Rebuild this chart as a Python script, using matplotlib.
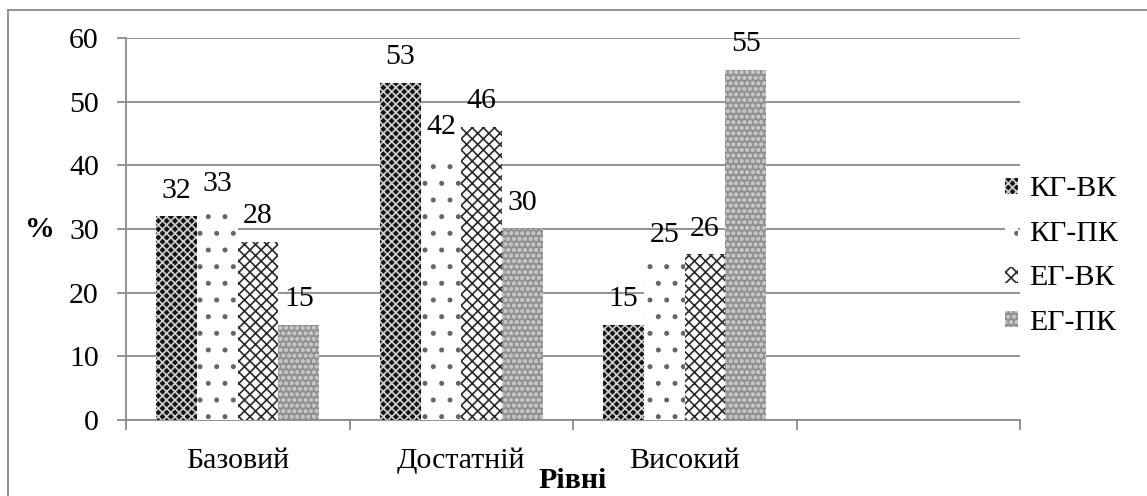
import matplotlib
matplotlib.use("Agg")
import matplotlib.pyplot as plt
import numpy as np
from matplotlib.lines import Line2D

plt.rcParams['font.family'] = ['Liberation Serif', 'DejaVu Serif']
plt.rcParams['hatch.linewidth'] = 1.2

categories = ['Базовий', 'Достатній', 'Високий', '']
series_names = ['КГ-ВК', 'КГ-ПК', 'ЕГ-ВК', 'ЕГ-ПК']
kg_vk = [32, 53, 15, None]
kg_pk = [33, 42, 25, None]
eg_vk = [28, 46, 26, None]
eg_pk = [15, 30, 55, None]
yticks = [0, 10, 20, 30, 40, 50, 60]

series = [kg_vk, kg_pk, eg_vk, eg_pk]
styles = [
    dict(facecolor='#151515', hatch='xxxx', edgecolor='#d0d0d0'),
    dict(facecolor='white', hatch='.', edgecolor='#666666'),
    dict(facecolor='white', hatch='xxx', edgecolor='#2a2a2a'),
    dict(facecolor='#8f8f8f', hatch='ooo', edgecolor='#c4c4c4'),
]

FS = 21.5
W, H = 1147, 496
fig = plt.figure(figsize=(W / 100, H / 100), dpi=100)
ax = fig.add_axes([126 / W, 1 - 420 / H, (1020 - 126) / W, (420 - 38) / H])

# outer frame (left and top edges visible)
fig.add_artist(Line2D([8 / W, 8 / W], [0, 1 - 10 / H], transform=fig.transFigure,
                      color='#8a8a8a', lw=1.3))
fig.add_artist(Line2D([8 / W, 1], [1 - 10 / H, 1 - 10 / H], transform=fig.transFigure,
                      color='#8a8a8a', lw=1.3))

n = len(categories)
x = np.arange(n)
w = 0.182
offsets = (np.arange(4) - 1.5) * w
for i, (vals, st) in enumerate(zip(series, styles)):
    xs = [x[j] + offsets[i] for j in range(n) if vals[j] is not None]
    vs = [v for v in vals if v is not None]
    ax.bar(xs, vs, width=w, linewidth=0, label=series_names[i], zorder=3, **st)
    for xx, v in zip(xs, vs):
        ax.annotate(str(v), (xx, v), xytext=(0, 13.5), textcoords='offset points',
                    ha='center', va='baseline', fontsize=FS, zorder=4)

ax.set_xlim(-0.5, n - 0.5)
ax.set_ylim(0, 60)
ax.set_yticks(yticks)
ax.set_yticklabels([str(t) for t in yticks], fontsize=FS)
ax.set_xticks(x)
ax.set_xticklabels(categories, fontsize=FS)
ax.tick_params(axis='x', which='major', length=0, pad=20)
ax.tick_params(axis='y', length=6.5, width=1.3, color='#8a8a8a', pad=13)
ax.set_xticks(np.arange(n + 1) - 0.5, minor=True)
ax.tick_params(axis='x', which='minor', length=7, width=1.3, color='#8a8a8a')
ax.grid(axis='y', color='#8a8a8a', lw=1.3, zorder=0)
for s in ['top', 'right']:
    ax.spines[s].set_visible(False)
for s in ['left', 'bottom']:
    ax.spines[s].set_color('#8a8a8a')
    ax.spines[s].set_linewidth(1.3)

fig.text(40 / W, 1 - 230 / H, '%', fontsize=FS, fontweight='bold', ha='center', va='center')
fig.text(573 / W, 1 - 480 / H, 'Рівні', fontsize=FS, fontweight='bold', ha='center', va='center')

leg = fig.legend(loc='center left', bbox_to_anchor=(1005 / W, 1 - 256 / H),
                 bbox_transform=fig.transFigure, frameon=False, fontsize=FS,
                 handlelength=0.45, handleheight=0.45, handletextpad=0.35,
                 labelspacing=0.62, borderpad=0, borderaxespad=0)

fig.savefig('out.png', dpi=100)
